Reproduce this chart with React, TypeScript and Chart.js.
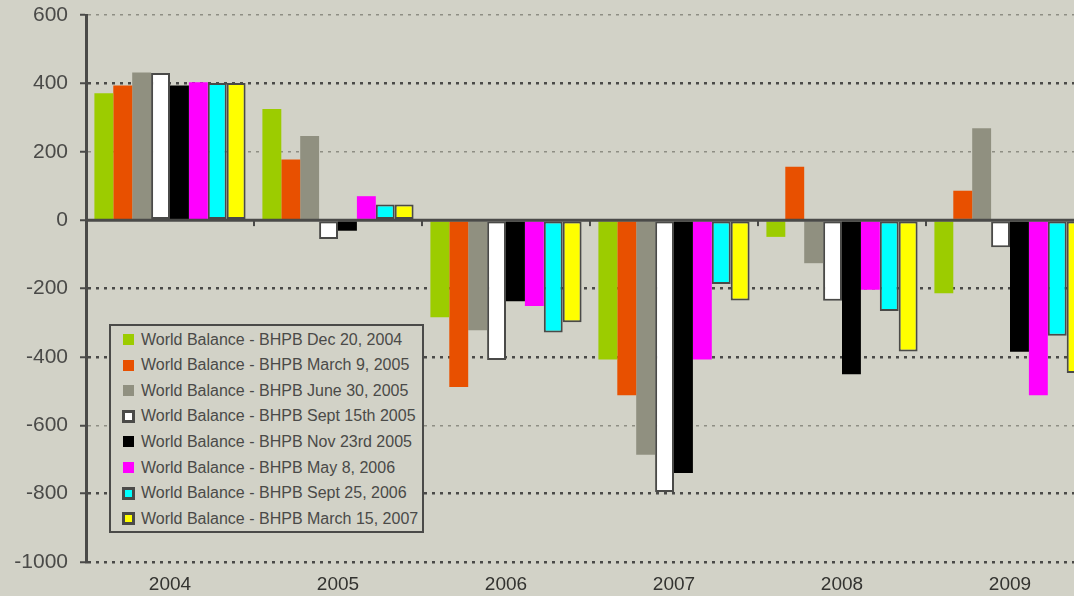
import React, { useEffect, useRef } from "react";
import { Chart, registerables } from "chart.js";
Chart.register(...registerables);

const categories = ["2004", "2005", "2006", "2007", "2008", "2009"];
const seriesLabels = [
  "World Balance - BHPB Dec 20, 2004",
  "World Balance - BHPB March 9, 2005",
  "World Balance - BHPB June 30, 2005",
  "World Balance - BHPB Sept 15th 2005",
  "World Balance - BHPB Nov 23rd 2005",
  "World Balance - BHPB May 8, 2006",
  "World Balance - BHPB Sept 25, 2006",
  "World Balance - BHPB March 15, 2007",
];
const dec2004 = [371, 325, -284, -408, -49, -214];
const mar2005 = [394, 177, -488, -512, 156, 86];
const jun2005 = [432, 246, -322, -686, -126, 269];
const sep2005 = [430, -55, -409, -795, -236, -79];
const nov2005 = [394, -31, -237, -740, -451, -385];
const may2006 = [403, 70, -251, -408, -204, -512];
const sep2006 = [401, 46, -329, -187, -266, -338];
const mar2007 = [401, 46, -299, -235, -384, -447];
const seriesValues = [dec2004, mar2005, jun2005, sep2005, nov2005, may2006, sep2006, mar2007];
const yMin = -1000;
const yMax = 600;
const yStep = 200;

const fills = ["#9ccc00", "#e85000", "#909080", "#ffffff", "#000000", "#ff00ff", "#00ffff", "#ffff00"];
const bordered = [false, false, false, true, false, false, true, true];
const DARK = "#4a4a48";
const BG = "#d2d2c7";
const FONT = "'Liberation Sans', Arial, sans-serif";

const zeroLinePlugin = {
  id: "zeroLine",
  afterDatasetsDraw(chart: any) {
    const { ctx, chartArea } = chart;
    const x = chart.scales.x;
    const y = chart.scales.y;
    const y0 = y.getPixelForValue(0);
    ctx.save();
    ctx.strokeStyle = DARK;
    ctx.lineWidth = 3;
    ctx.beginPath();
    ctx.moveTo(chartArea.left, y0);
    ctx.lineTo(chartArea.right, y0);
    ctx.stroke();
    ctx.fillStyle = DARK;
    for (let i = 0; i < categories.length - 1; i++) {
      const px = (x.getPixelForTick(i) + x.getPixelForTick(i + 1)) / 2;
      ctx.fillRect(px - 1, y0, 2, 6);
    }
    ctx.restore();
  },
};

const lightVals = new Set([600, 200, -600]);

export default function App() {
  const ref = useRef<HTMLCanvasElement>(null);
  useEffect(() => {
    if (!ref.current) return;
    const chart = new Chart(ref.current, {
      type: "bar",
      data: {
        labels: categories,
        datasets: seriesValues.map((vals, i) => ({
          label: seriesLabels[i],
          data: vals,
          backgroundColor: fills[i],
          borderColor: DARK,
          borderWidth: bordered[i] ? 2 : 0,
          borderSkipped: false,
          categoryPercentage: 0.9,
          barPercentage: 1.0,
        })),
      },
      options: {
        responsive: false,
        animation: false,
        layout: { padding: { top: 15, right: 2, left: 0, bottom: 0 } },
        plugins: { legend: { display: false }, tooltip: { enabled: false } },
        scales: {
          x: {
            grid: { display: false, drawTicks: false },
            border: { display: false },
            ticks: { color: "#333330", font: { family: FONT, size: 19 }, padding: 11 },
            afterFit: (s: any) => { s.height = 34; s.paddingLeft = 0; s.paddingRight = 0; },
          },
          y: {
            min: yMin,
            max: yMax,
            ticks: {
              stepSize: yStep,
              color: DARK,
              font: { family: FONT, size: 21 },
              padding: 12,
              callback: (v: any) => String(v),
            },
            grid: {
              color: (c: any) => {
                const v = c.tick ? c.tick.value : null;
                if (v === 0) return "rgba(0,0,0,0)";
                return lightVals.has(v) ? "#8e8e84" : DARK;
              },
              lineWidth: (c: any) => {
                const v = c.tick ? c.tick.value : null;
                return lightVals.has(v) ? 1.5 : 2.5;
              },
              tickColor: DARK,
              tickWidth: 2,
              tickLength: 6,
            },
            border: {
              display: true,
              color: DARK,
              width: 3,
              dash: (c: any) => (c.tick ? [3, 5] : []),
            },
            afterFit: (s: any) => { s.width = 86; s.paddingTop = 0; s.paddingBottom = 0; },
          },
        },
      },
      plugins: [zeroLinePlugin],
    } as any);
    return () => chart.destroy();
  }, []);

  const boxLeft = 109;
  const boxTop = 324;
  const rowStart = 339.5;
  const rowGap = 25.6;

  return (
    <div style={{ position: "fixed", left: 0, top: 0, width: 1074, height: 596, overflow: "hidden", background: BG }}>
      <canvas ref={ref} width={1096} height={596} style={{ position: "absolute", left: 0, top: 0 }} />
      <div
        style={{
          position: "absolute",
          left: boxLeft,
          top: boxTop,
          width: 315,
          height: 209,
          boxSizing: "border-box",
          border: `2px solid ${DARK}`,
          background: BG,
        }}
      >
        {seriesLabels.map((lab, i) => {
          const cy = rowStart + i * rowGap - boxTop;
          const size = bordered[i] ? 13 : 11;
          return (
            <div key={lab}>
              <div
                style={{
                  position: "absolute",
                  left: 123 - boxLeft + (bordered[i] ? -1 : 0) - 2,
                  top: cy - size / 2 - 2,
                  width: size,
                  height: size,
                  boxSizing: "border-box",
                  background: fills[i],
                  border: bordered[i] ? `3px solid ${DARK}` : "none",
                }}
              />
              <div
                style={{
                  position: "absolute",
                  left: 141 - boxLeft - 2,
                  top: cy - 11 - 2,
                  height: 22,
                  lineHeight: "22px",
                  whiteSpace: "nowrap",
                  fontFamily: FONT,
                  fontSize: 16,
                  color: DARK,
                }}
              >
                {lab}
              </div>
            </div>
          );
        })}
      </div>
    </div>
  );
}
